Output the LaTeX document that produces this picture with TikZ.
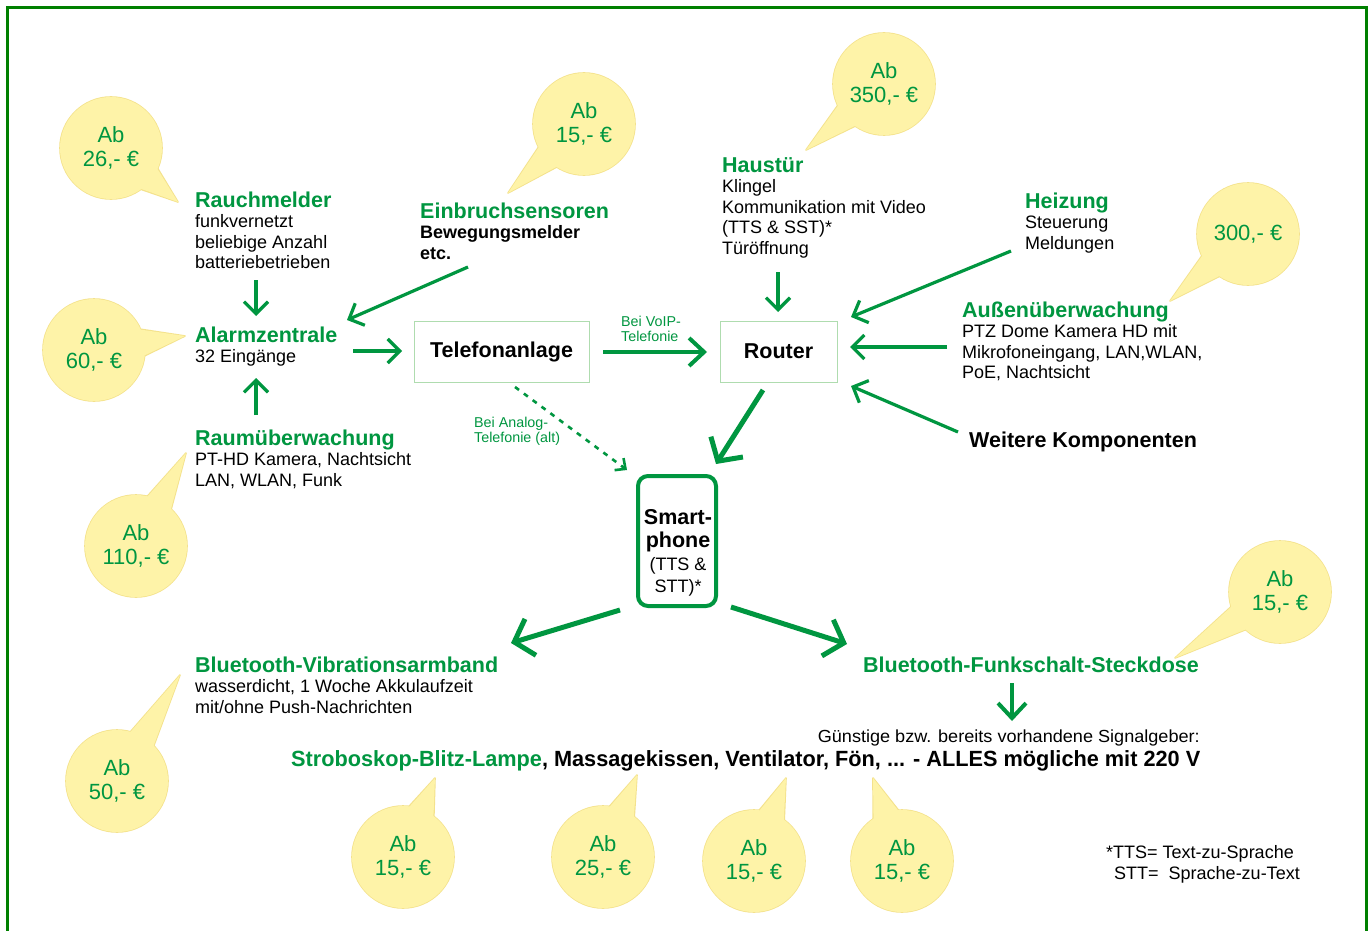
\documentclass[tikz,border=0pt]{standalone}
\usepackage{fontspec}
\setmainfont{Liberation Sans}
\usepackage{graphicx}
\usetikzlibrary{arrows.meta,calc}
\definecolor{gtxt}{RGB}{0,150,64}
\definecolor{garrow}{RGB}{0,150,64}
\definecolor{framegreen}{RGB}{0,128,0}
\definecolor{bubfill}{RGB}{254,243,168}
\definecolor{bubedge}{RGB}{244,226,140}
\definecolor{boxedge}{RGB}{175,220,175}
\newcommand\ttl[1]{{\fontsize{21.5}{24}\selectfont\bfseries\color{gtxt}#1}}
\newcommand\complines[1]{\begin{tabular}[t]{@{}l@{}}#1\end{tabular}}
\newcommand\pricetag[4]{%
  \coordinate (#1c) at (#2);
  \coordinate (#1t) at (#3);
  \draw[draw=bubedge, line width=1.6pt] (#1c) circle[radius=51pt];
  \draw[draw=bubedge, line width=1.6pt, line join=round] ($(#1c)!50pt!16:(#1t)$) -- (#1t) -- ($(#1c)!50pt!-16:(#1t)$);
  \fill[bubfill] (#1c) circle[radius=51pt];
  \fill[bubfill] ($(#1c)!48pt!17:(#1t)$) -- (#1t) -- ($(#1c)!48pt!-17:(#1t)$) -- cycle;
  \node[bubtext] (#1) at (#1c) {#4};
}
\tikzset{
  comp/.style={anchor=base west, inner sep=0pt, font=\fontsize{18}{20.6}\selectfont},
  bubtext/.style={align=center, inner sep=0pt, text=gtxt, font=\fontsize{22}{24.5}\selectfont},
  smalllbl/.style={anchor=base west, inner sep=0pt, text=gtxt, font=\fontsize{14.3}{15.5}\selectfont},
  plainbox/.style={draw=boxedge, line width=1pt, inner sep=0pt, font=\fontsize{21.5}{24}\selectfont\bfseries},
  phonebox/.style={draw=garrow, line width=4pt, rounded corners=10pt, minimum width=78pt, minimum height=130pt, inner sep=0pt},
  arr/.style={draw=garrow, line width=3.2pt, -{Straight Barb[length=12pt,width=24pt]}},
  midarr/.style={draw=garrow, line width=4pt, -{Straight Barb[length=15pt,width=28pt]}},
  bigarr/.style={draw=garrow, line width=5pt, -{Straight Barb[length=17pt,width=38pt]}},
  dotarr/.style={draw=garrow, line width=2.6pt, dash pattern=on 5pt off 6pt, -{Straight Barb[length=8pt,width=15pt]}},
}
\begin{document}
\begin{tikzpicture}[x=1pt,y=-1pt]
\useasboundingbox (0,0) rectangle (1368,931);
\clip (0,0) rectangle (1368,931);
\fill[white] (0,0) rectangle (1368,931);
\draw[framegreen, line width=3pt] (7.5,960) -- (7.5,8) -- (1366,8) -- (1366,960);

% price bubbles
\pricetag{p26}{111,148}{178,202}{Ab\\26,- €}
\pricetag{p15a}{584,124}{508,193}{Ab\\15,- €}
\pricetag{p350}{884,84}{806,150}{Ab\\350,- €}
\pricetag{p300}{1248,234}{1170,301}{300,- €}
\pricetag{p60}{94,350}{185,336}{Ab\\60,- €}
\pricetag{p110}{136,546}{186,453}{Ab\\110,- €}
\pricetag{p15b}{1280,592}{1175,658}{Ab\\15,- €}
\pricetag{p50}{117,781}{180,675}{Ab\\50,- €}
\pricetag{p15c}{403,857}{435,778}{Ab\\15,- €}
\pricetag{p25}{603,857}{637,775}{Ab\\25,- €}
\pricetag{p15d}{754,861}{786,778}{Ab\\15,- €}
\pricetag{p15e}{902,861}{873,778}{Ab\\15,- €}

% components
\node[comp] (rauch) at (195,207) {\complines{\ttl{Rauchmelder}\\funkvernetzt\\beliebige Anzahl\\batteriebetrieben}};
\node[comp] (einbruch) at (420,218) {\complines{\ttl{Einbruchsensoren}\\\textbf{Bewegungsmelder}\\\textbf{etc.}}};
\node[comp] (alarm) at (195,342) {\complines{\ttl{Alarmzentrale}\\32 Eingänge}};
\node[comp] (raum) at (195,445) {\complines{\ttl{Raumüberwachung}\\PT-HD Kamera, Nachtsicht\\LAN, WLAN, Funk}};
\node[comp] (haustuer) at (722,172) {\complines{\ttl{Haustür}\\Klingel\\Kommunikation mit Video\\(TTS \& SST)*\\Türöffnung}};
\node[comp] (heizung) at (1025,208) {\complines{\ttl{Heizung}\\Steuerung\\Meldungen}};
\node[comp] (aussen) at (962,317) {\complines{\ttl{Außenüberwachung}\\PTZ Dome Kamera HD mit\\Mikrofoneingang, LAN,WLAN,\\PoE, Nachtsicht}};
\node[anchor=base west, inner sep=0pt, font=\fontsize{21.5}{24}\selectfont\bfseries] (weitere) at (969,447) {Weitere Komponenten};
\node[comp] (btvib) at (195,672) {\complines{\ttl{Bluetooth-Vibrationsarmband}\\wasserdicht, 1 Woche Akkulaufzeit\\mit/ohne Push-Nachrichten}};
\node[anchor=base east, inner sep=0pt] (btfunk) at (1199,672) {\ttl{Bluetooth-Funkschalt-Steckdose}};

\node[plainbox, minimum width=175pt, minimum height=61pt] (tel) at (501.5,351.5) {Telefonanlage};
\node[plainbox, minimum width=117pt, minimum height=61pt] (router) at (778.5,351.5) {Router};
\node[phonebox] (phone) at (677,541) {};
\node[anchor=base, inner sep=0pt, font=\fontsize{18}{22.3}\selectfont] (phonetxt) at (678,524)
  {\begin{tabular}[t]{@{}c@{}}{\fontsize{21.5}{24}\selectfont\bfseries Smart-}\\[1.5pt]{\fontsize{21.5}{24}\selectfont\bfseries phone}\\(TTS \&\\STT)*\end{tabular}};

\node[smalllbl] (voip) at (621,326) {\complines{Bei VoIP-\\Telefonie}};
\node[smalllbl] (analog) at (474,427) {\complines{Bei Analog-\\Telefonie (alt)}};

\node[anchor=base east, inner sep=0pt, font=\fontsize{17.5}{20}\selectfont] (guenstig) at (1200,742)
  {\resizebox{382pt}{\height}{Günstige bzw. bereits vorhandene Signalgeber:}};
\node[anchor=base west, inner sep=0pt, font=\fontsize{22}{24}\selectfont\bfseries] (geraete) at (291,766)
  {\resizebox{909pt}{\height}{\textcolor{gtxt}{Stroboskop-Blitz-Lampe}, Massagekissen, Ventilator, Fön, ... - ALLES mögliche mit 220 V}};

\node[anchor=base west, inner sep=0pt, font=\fontsize{18}{21}\selectfont] (fn1) at (1106,858) {*TTS= Text-zu-Sprache};
\node[anchor=base west, inner sep=0pt, font=\fontsize{18}{21}\selectfont] (fn2) at (1114,879) {STT=\ \ Sprache-zu-Text};

% connector end points
\coordinate (a1s) at (256,280); \coordinate (a1e) at (256,316);
\coordinate (a2s) at (468,267); \coordinate (a2e) at (347,320);
\coordinate (a3s) at (256,415); \coordinate (a3e) at (256,378);
\coordinate (a4s) at (353,351); \coordinate (a4e) at (402,351);
\coordinate (a5s) at (603,352); \coordinate (a5e) at (707,352);
\coordinate (a6s) at (515,387); \coordinate (a6e) at (627,470);
\coordinate (a7s) at (763,390); \coordinate (a7e) at (716,464);
\coordinate (a8s) at (778,272); \coordinate (a8e) at (778,312);
\coordinate (a9s) at (1011,251); \coordinate (a9e) at (851,317);
\coordinate (a10s) at (947,347); \coordinate (a10e) at (850,347);
\coordinate (a11s) at (958,432); \coordinate (a11e) at (851,386);
\coordinate (a12s) at (620,610); \coordinate (a12e) at (511,643);
\coordinate (a13s) at (731,607); \coordinate (a13e) at (847,644);
\coordinate (a14s) at (1012,683); \coordinate (a14e) at (1012,721);

\draw[arr] (a1s) -- (a1e);
\draw[arr] (a2s) -- (a2e);
\draw[arr] (a3s) -- (a3e);
\draw[arr] (a4s) -- (a4e);
\draw[midarr] (a5s) -- (a5e);
\draw[dotarr] (a6s) -- (a6e);
\draw[bigarr] (a7s) -- (a7e);
\draw[arr] (a8s) -- (a8e);
\draw[arr] (a9s) -- (a9e);
\draw[arr] (a10s) -- (a10e);
\draw[arr] (a11s) -- (a11e);
\draw[bigarr] (a12s) -- (a12e);
\draw[bigarr] (a13s) -- (a13e);
\draw[midarr] (a14s) -- (a14e);
\end{tikzpicture}
\end{document}
